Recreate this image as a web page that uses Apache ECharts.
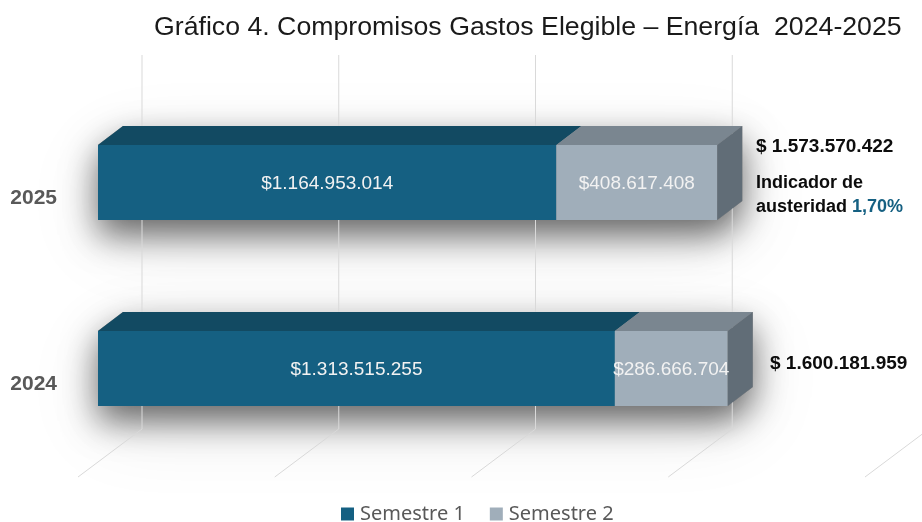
<!DOCTYPE html>
<html><head><meta charset="utf-8">
<style>html,body{margin:0;padding:0;background:#fff}#c{width:922px;height:522px}</style>
<script src="https://cdn.jsdelivr.net/npm/echarts@6/dist/echarts.min.js"></script>
</head><body><div id="c"></div>
<script>
const categories = ['2024', '2025'];
const semestre1 = [1313515255, 1164953014];
const semestre2 = [286666704, 408617408];
const totals = [1600181959, 1573570422];
const gridValues = [0, 500000000, 1000000000, 1500000000, 2000000000];
const seriesNames = ['Semestre 1', 'Semestre 2'];
const titleText = 'Gráfico 4. Compromisos Gastos Elegible – Energía  2024-2025';

const fmt = v => '$' + String(v).replace(/\B(?=(\d{3})+(?!\d))/g, '.');
const fmtTotal = v => '$ ' + String(v).replace(/\B(?=(\d{3})+(?!\d))/g, '.');

// pseudo-3D projection constants
const FRONT_DX = 20, FRONT_DY = -15.5;   // bar front face relative to the floor's front edge
const DEPTH_DX = 25, DEPTH_DY = -19;     // bar depth
const WALL_DX = 64, WALL_DY = -48;       // floor depth
const WALL_TOP = 55;
const BAR_RATIO = 75 / 186;

const palette = [
  {front: '#156082', top: '#124A62', side: '#124A62', text: '#f2f2f2'},
  {front: '#A0AEBA', top: '#7A8690', side: '#616D77', text: '#f2f2f2'}
];

function barBox(api, start, end, cat) {
  const a = api.coord([start, cat]);
  const b = api.coord([end, cat]);
  const h = api.size([0, 1])[1] * BAR_RATIO;
  const cy = a[1] + FRONT_DY;
  return {x0: a[0] + FRONT_DX, x1: b[0] + FRONT_DX, y0: cy - h / 2, y1: cy + h / 2};
}

function poly(points, fill) {
  return {type: 'polygon', silent: true, shape: {points}, style: {fill}};
}

function segmentRender(pi, isLast) {
  return function (params, api) {
    const box = barBox(api, api.value(0), api.value(1), api.value(2));
    const c = palette[pi];
    const kids = [
      poly([[box.x0, box.y0], [box.x1, box.y0], [box.x1 + DEPTH_DX, box.y0 + DEPTH_DY], [box.x0 + DEPTH_DX, box.y0 + DEPTH_DY]], c.top),
      {type: 'rect', silent: true, shape: {x: box.x0, y: box.y0, width: box.x1 - box.x0, height: box.y1 - box.y0}, style: {fill: c.front}},
    ];
    if (isLast) {
      kids.push(poly([[box.x1, box.y0], [box.x1 + DEPTH_DX, box.y0 + DEPTH_DY], [box.x1 + DEPTH_DX, box.y1 + DEPTH_DY], [box.x1, box.y1]], c.side));
    }
    kids.push({type: 'text', silent: true, z2: 10, style: {
      text: fmt(api.value(1) - api.value(0)),
      x: (box.x0 + box.x1) / 2, y: (box.y0 + box.y1) / 2 + 1,
      align: 'center', verticalAlign: 'middle',
      fill: c.text, font: '19px "Liberation Sans", Arial, sans-serif'
    }});
    return {type: 'group', children: kids};
  };
}

function shadowRender(params, api) {
  const box = barBox(api, 0, api.value(0), api.value(1));
  const pts = [[box.x0, box.y0], [box.x0 + DEPTH_DX, box.y0 + DEPTH_DY], [box.x1 + DEPTH_DX, box.y0 + DEPTH_DY],
               [box.x1 + DEPTH_DX, box.y1 + DEPTH_DY], [box.x1, box.y1], [box.x0, box.y1]];
  const mk = (blur, color, oy) => ({type: 'polygon', silent: true, shape: {points: pts},
    style: {fill: '#999', shadowBlur: blur, shadowColor: color, shadowOffsetX: 0, shadowOffsetY: oy}});
  return {type: 'group', children: [mk(80, 'rgba(0,0,0,0.09)', 22), mk(34, 'rgba(0,0,0,0.58)', 15)]};
}

function gridRender(params, api) {
  const p = api.coord([api.value(0), 0]);
  const floorY = params.coordSys.y + params.coordSys.height;
  const x = p[0];
  const line = {stroke: '#d9d9d9', lineWidth: 1, fill: 'none'};
  return {type: 'polyline', silent: true, shape: {points: [[x, floorY], [x + WALL_DX, floorY + WALL_DY], [x + WALL_DX, WALL_TOP]]}, style: line};
}

const option = {
  animation: false,
  backgroundColor: '#ffffff',
  title: {text: titleText, left: 154, top: 14, padding: 0,
    textStyle: {fontFamily: '"Liberation Sans", Arial, sans-serif', fontSize: 26.7, fontWeight: 'normal', color: '#1a1a1a'}},
  grid: {left: 78, top: 105, width: 787, height: 372, containLabel: false},
  xAxis: {type: 'value', min: 0, max: 2000000000, interval: 500000000,
    axisLine: {show: false}, axisTick: {show: false}, axisLabel: {show: false}, splitLine: {show: false}},
  yAxis: {type: 'category', data: categories,
    axisLine: {show: false}, axisTick: {show: false},
    axisLabel: {margin: 21, color: '#595959', fontWeight: 'bold', fontSize: 21, fontFamily: '"Liberation Sans", Arial, sans-serif'}},
  legend: {data: seriesNames, left: 341, top: 504, padding: 0, itemWidth: 13, itemHeight: 13, itemGap: 25, icon: 'rect',
    textStyle: {color: '#595959', fontSize: 20, fontFamily: '"Noto Sans", sans-serif', padding: [0, 0, 0, 1]}},
  graphic: [
    {type: 'text', silent: true, left: 756, top: 137, style: {text: fmtTotal(totals[1]), fill: '#0d0d0d', font: 'bold 19px "Liberation Sans", Arial, sans-serif'}},
    {type: 'text', silent: true, left: 770, top: 354, style: {text: fmtTotal(totals[0]), fill: '#0d0d0d', font: 'bold 19px "Liberation Sans", Arial, sans-serif'}},
    {type: 'text', silent: true, left: 756, top: 171, style: {
      text: 'Indicador de\n{plain|austeridad} {pct|1,70%}',
      fill: '#0d0d0d', font: 'bold 18px "Liberation Sans", Arial, sans-serif', lineHeight: 24,
      rich: {
        plain: {fill: '#0d0d0d', font: 'bold 18px "Liberation Sans", Arial, sans-serif', lineHeight: 24},
        pct: {fill: '#156082', font: 'bold 18px "Liberation Sans", Arial, sans-serif', lineHeight: 24}
      }
    }}
  ],
  series: [
    {type: 'custom', name: 'sombra', z: 1, silent: true, renderItem: shadowRender,
      encode: {x: 0, y: 1}, data: totals.map((t, i) => [t, i])},
    {type: 'custom', name: 'rejilla', z: 2, silent: true, renderItem: gridRender,
      encode: {x: 0}, data: gridValues.map(v => [v])},
    {type: 'custom', name: seriesNames[0], z: 3, silent: true, itemStyle: {color: palette[0].front},
      renderItem: segmentRender(0, false), encode: {x: [0, 1], y: 2},
      data: semestre1.map((v, i) => [0, v, i])},
    {type: 'custom', name: seriesNames[1], z: 4, silent: true, itemStyle: {color: palette[1].front},
      renderItem: segmentRender(1, true), encode: {x: [0, 1], y: 2},
      data: semestre2.map((v, i) => [semestre1[i], semestre1[i] + v, i])}
  ]
};
echarts.init(document.getElementById('c'), null, {renderer: 'canvas'}).setOption(option);
</script></body></html>
